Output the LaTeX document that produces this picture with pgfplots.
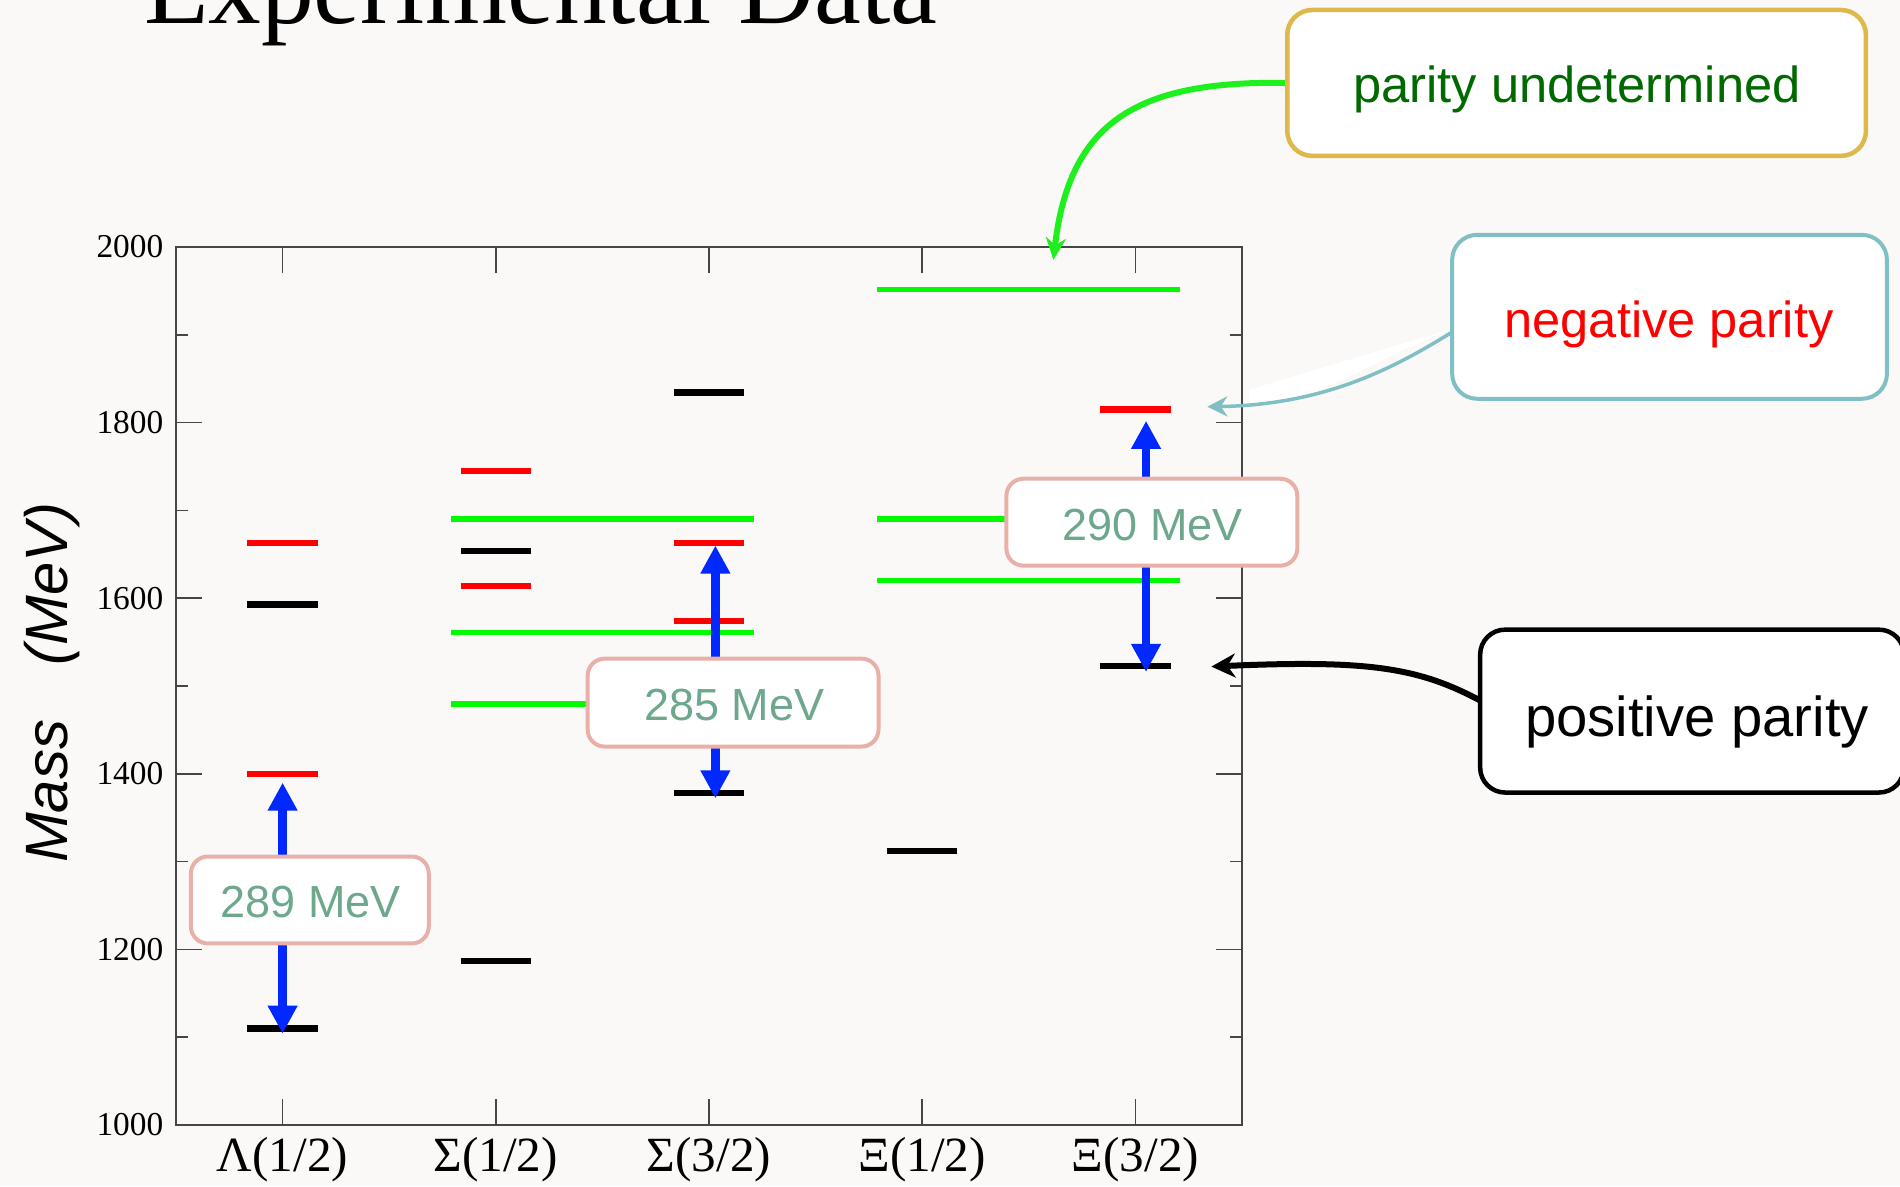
\documentclass[border=0pt]{standalone}
\usepackage{fontspec}
\setmainfont{Liberation Serif}
\newfontfamily\arial{Liberation Sans}
\usepackage{pgfplots}
\pgfplotsset{compat=1.18}
\usetikzlibrary{arrows.meta}
\definecolor{bgc}{RGB}{250,249,247}
\definecolor{axisgray}{RGB}{70,70,70}
\definecolor{lvgreen}{RGB}{0,250,0}
\definecolor{lvred}{RGB}{255,0,0}
\definecolor{arrblue}{RGB}{0,40,255}
\definecolor{goldc}{RGB}{222,184,74}
\definecolor{tealc}{RGB}{128,191,196}
\definecolor{pinkc}{RGB}{232,176,168}
\definecolor{mevc}{RGB}{110,168,140}
\definecolor{dgreen}{RGB}{0,105,0}
\definecolor{arrgreen}{RGB}{30,240,30}
\begin{document}
\begin{tikzpicture}
\path[use as bounding box, fill=bgc] (0,0) rectangle (19cm,11.86cm);
\begin{axis}[
  at={(1.76cm,0.61cm)}, anchor=south west,
  scale only axis, width=10.66cm, height=8.78cm,
  xmin=-0.5, xmax=4.5, ymin=1000, ymax=2000,
  xtick={0,1,2,3,4},
  xticklabels={Λ(1/2),Σ(1/2),Σ(3/2),Ξ(1/2),Ξ(3/2)},
  ytick={1000,1200,...,2000},
  minor y tick num=1,
  axis line style={draw=axisgray, line width=0.45pt},
  every tick/.style={draw=axisgray, line width=0.45pt},
  major tick length=0.26cm, minor tick length=0.12cm,
  tick align=inside,
  yticklabel style={font=\fontsize{9.5}{11}\selectfont, inner sep=0pt, xshift=-0.12cm},
  xticklabel style={font=\fontsize{14}{16}\selectfont, inner sep=0pt, anchor=north, yshift=-0.12cm},
  /pgf/number format/assume math mode=true,
  /pgf/number format/1000 sep={},
  unbounded coords=jump,
  clip=false,
]
% parity undetermined (spin 1/2 or 3/2)
\addplot[lvgreen, line width=0.055cm] coordinates {
 (0.79,1479.5) (2.21,1479.5) (0,nan)
 (0.79,1561) (2.21,1561) (0,nan)
 (0.79,1690) (2.21,1690) (0,nan)
 (2.79,1620) (4.21,1620) (0,nan)
 (2.79,1690) (4.21,1690) (0,nan)
 (2.79,1951.5) (4.21,1951.5)
};
% positive parity
\addplot[black, line width=0.065cm] coordinates {
 (-0.165,1110) (0.165,1110) (0,nan)
 (-0.165,1593) (0.165,1593) (0,nan)
 (0.835,1187) (1.165,1187) (0,nan)
 (0.835,1654) (1.165,1654) (0,nan)
 (1.835,1378) (2.165,1378) (0,nan)
 (1.835,1834) (2.165,1834) (0,nan)
 (2.835,1312) (3.165,1312) (0,nan)
 (3.835,1523) (4.165,1523)
};
% negative parity
\addplot[lvred, line width=0.065cm] coordinates {
 (-0.165,1400) (0.165,1400) (0,nan)
 (-0.165,1663) (0.165,1663) (0,nan)
 (0.835,1614) (1.165,1614) (0,nan)
 (0.835,1745) (1.165,1745) (0,nan)
 (1.835,1574) (2.165,1574) (0,nan)
 (1.835,1663) (2.165,1663) (0,nan)
 (3.835,1815) (4.165,1815)
};
% splittings
\addplot[arrblue, line width=0.085cm, {Triangle[width=0.28cm,length=0.28cm]}-{Triangle[width=0.28cm,length=0.28cm]}] coordinates {(0,1104) (0,1390)};
\addplot[arrblue, line width=0.085cm, {Triangle[width=0.28cm,length=0.28cm]}-{Triangle[width=0.28cm,length=0.28cm]}] coordinates {(2.03,1372) (2.03,1660)};
\addplot[arrblue, line width=0.085cm, {Triangle[width=0.28cm,length=0.28cm]}-{Triangle[width=0.28cm,length=0.28cm]}] coordinates {(4.05,1516) (4.05,1802)};
\end{axis}
\begin{scope}[x=0.01cm, y=-0.01cm, shift={(0,11.86cm)}]
% title
\node[anchor=base west, inner sep=0pt, font=\fontsize{30}{36}\selectfont] at (143.5,24) {Experimental Data};
% y label
\node[rotate=90, anchor=base, inner sep=0pt, font=\arial\itshape\fontsize{17}{20}\selectfont] at (68,683) {Mass\hspace{0.55cm}(MeV)};
% parity undetermined callout
\draw[arrgreen, line width=0.06cm, -{Stealth[length=0.22cm,width=0.2cm]}] (1290,83) .. controls (1140,80) and (1070,120) .. (1054,260);
\draw[goldc, line width=0.045cm, fill=white, rounded corners=0.25cm] (1288,10) rectangle (1867,156);
\node[anchor=base, inner sep=0pt, font=\arial\fontsize{14.4}{17}\selectfont, text=dgreen] at (1578,103) {parity undetermined};
% negative parity callout
\fill[white] (1453,329) -- (1250,390) -- (1250,404) -- (1300,399) -- (1350,377) -- (1400,352) -- cycle;
\draw[tealc, line width=0.035cm, -{Stealth[length=0.2cm,width=0.2cm]}] (1455,331) .. controls (1400,365) and (1330,405) .. (1208,407);
\draw[tealc, line width=0.04cm, fill=white, rounded corners=0.25cm] (1453,235) rectangle (1888,399);
\node[anchor=base, inner sep=0pt, font=\arial\fontsize{14.4}{17}\selectfont, text=lvred] at (1670,338) {negative parity};
% positive parity callout
\draw[black, line width=0.06cm, -{Stealth[length=0.24cm,width=0.24cm]}] (1483,702) .. controls (1420,668) and (1370,660) .. (1212,667);
\draw[black, line width=0.045cm, fill=white, rounded corners=0.25cm] (1481,630) rectangle (1905,793);
\node[anchor=base, inner sep=0pt, font=\arial\fontsize{16}{19}\selectfont] at (1698,737) {positive parity};
% MeV boxes
\draw[pinkc, line width=0.04cm, fill=white, rounded corners=0.17cm] (191,857) rectangle (429,944);
\node[anchor=base, inner sep=0pt, font=\arial\fontsize{12.8}{15}\selectfont, text=mevc] at (311,918) {289 MeV};
\draw[pinkc, line width=0.04cm, fill=white, rounded corners=0.17cm] (588,659) rectangle (879,747);
\node[anchor=base, inner sep=0pt, font=\arial\fontsize{12.8}{15}\selectfont, text=mevc] at (734.5,720.5) {285 MeV};
\draw[pinkc, line width=0.04cm, fill=white, rounded corners=0.17cm] (1007,479) rectangle (1298,566);
\node[anchor=base, inner sep=0pt, font=\arial\fontsize{12.8}{15}\selectfont, text=mevc] at (1153.5,541) {290 MeV};
\end{scope}
\end{tikzpicture}
\end{document}
